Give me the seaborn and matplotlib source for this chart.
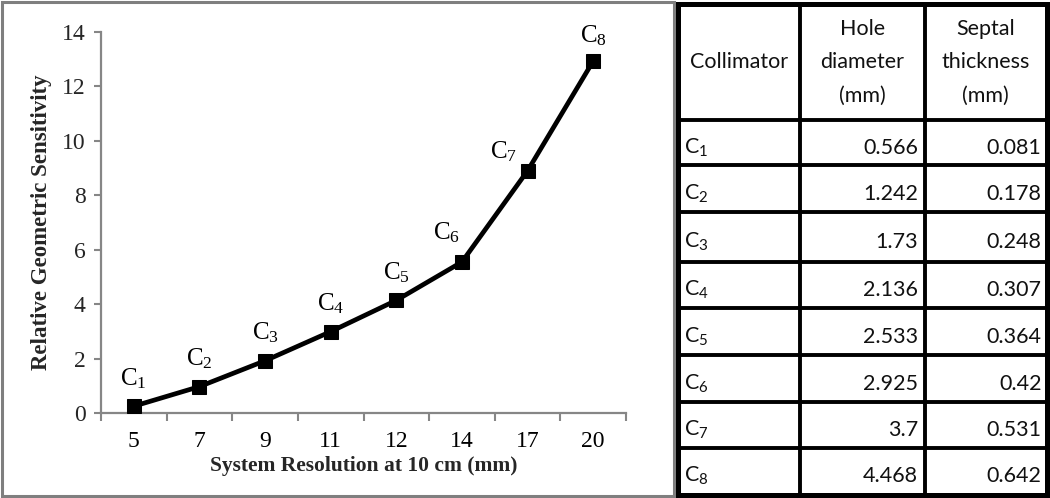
import numpy as np
import pandas as pd
import matplotlib
matplotlib.use("Agg")
import matplotlib.pyplot as plt
import seaborn as sns
from matplotlib.ticker import FixedLocator

# ---- data ----
resolution = ["5", "7", "9", "11", "12", "14", "17", "20"]
sensitivity = [0.25, 0.97, 1.92, 2.99, 4.14, 5.55, 8.9, 12.93]
collimators = ["C1", "C2", "C3", "C4", "C5", "C6", "C7", "C8"]
hole_diameter = ["0.566", "1.242", "1.73", "2.136", "2.533", "2.925", "3.7", "4.468"]
septal_thickness = ["0.081", "0.178", "0.248", "0.307", "0.364", "0.42", "0.531", "0.642"]
header = [["Collimator"], ["Hole", "diameter", "(mm)"], ["Septal", "thickness", "(mm)"]]

# label offsets (points) for the point annotations
label_dx = [0, 0, 0, 0, 0, -11, -17, 0]
label_dy = [20, 20, 20, 20, 20, 21, 14, 18]

sns.set_theme(style="white")
plt.rcParams["font.family"] = ["Liberation Serif", "DejaVu Serif"]

W, H = 1050, 498
fig = plt.figure(figsize=(W / 100, H / 100), dpi=100)

# overlay axes in pixel coordinates for frames and table
ov = fig.add_axes([0, 0, 1, 1])
ov.set_xlim(0, W)
ov.set_ylim(H, 0)
ov.axis("off")

# gray frame around chart
ov.add_patch(plt.Rectangle((1.5, 1.5), 672, 494, fill=False, edgecolor="#7f7f7f", linewidth=2.2))

# ---- chart ----
ax = fig.add_axes([101 / W, (H - 413) / H, (626 - 101) / W, (413 - 32) / H])
pos = np.arange(len(resolution))
df = pd.DataFrame({"pos": pos, "sens": sensitivity})
sns.lineplot(data=df, x="pos", y="sens", ax=ax, color="black", linewidth=3.4,
             marker="s", markersize=9.5, markeredgecolor="black", zorder=3)
ax.set_xlim(-0.5, len(resolution) - 0.5)
ax.set_ylim(0, 14)
ax.set_yticks(np.arange(0, 15, 2))
ax.set_xticks(pos)
ax.set_xticklabels(resolution)
ax.xaxis.set_minor_locator(FixedLocator(np.arange(-0.5, len(resolution), 1.0)))
ax.tick_params(axis="x", which="major", length=0, pad=13, labelsize=17, colors="black")
ax.tick_params(axis="x", which="minor", length=6, width=1.5, direction="out", color="#868686", bottom=True)
ax.tick_params(axis="y", which="major", length=5, width=1.5, direction="out", color="#868686",
               labelsize=17, pad=6, left=True)
for s in ["top", "right"]:
    ax.spines[s].set_visible(False)
for s in ["left", "bottom"]:
    ax.spines[s].set_color("#868686")
    ax.spines[s].set_linewidth(1.6)
ax.set_facecolor("none")
ax.set_xlabel("System Resolution at 10 cm (mm)", fontsize=15.5, fontweight="bold", labelpad=3)
ax.set_ylabel("Relative Geometric Sensitivity", fontsize=16.5, fontweight="bold", labelpad=7)

for i, (c, y) in enumerate(zip(collimators, sensitivity)):
    ax.annotate(r"$\mathregular{C_{%s}}$" % c[1:], xy=(pos[i], y),
                xytext=(label_dx[i], label_dy[i]), textcoords="offset points",
                ha="center", va="center", fontsize=18, color="black")

# ---- table ----
tfont = ["Lato", "DejaVu Sans"]
tsize = 15.5
xl, xr = 677.5, 1046.5
col_x = [xl, 800, 925, xr]
row_y = [3.5, 120, 165, 212, 262, 308, 355, 402, 448, 494.5]
lw_in = 2.8
for x in col_x[1:-1]:
    ov.plot([x, x], [row_y[0], row_y[-1]], color="black", linewidth=lw_in, solid_capstyle="butt")
for y in row_y[1:-1]:
    ov.plot([xl, xr], [y, y], color="black", linewidth=lw_in, solid_capstyle="butt")
ov.add_patch(plt.Rectangle((xl, row_y[0]), xr - xl, row_y[-1] - row_y[0], fill=False,
                           edgecolor="black", linewidth=3.6))

# header text
for j, lines in enumerate(header):
    cx = (col_x[j] + col_x[j + 1]) / 2
    n = len(lines)
    for k, t in enumerate(lines):
        yy = 62 + (k - (n - 1) / 2) * 33.5
        ov.text(cx, yy, t, ha="center", va="center", fontsize=tsize, family=tfont, color="#111111")

for i in range(len(collimators)):
    yc = (row_y[i + 1] + row_y[i + 2]) / 2 + 5
    ov.text(col_x[0] + 7, yc, r"$\mathregular{C_{%s}}$" % collimators[i][1:], ha="left", va="center",
            fontsize=tsize, family=tfont, color="#111111")
    ov.text(col_x[2] - 7, yc, hole_diameter[i], ha="right", va="center",
            fontsize=tsize, family=tfont, color="#111111")
    ov.text(col_x[3] - 5, yc, septal_thickness[i], ha="right", va="center",
            fontsize=tsize, family=tfont, color="#111111")

fig.savefig("out.png", dpi=100)
